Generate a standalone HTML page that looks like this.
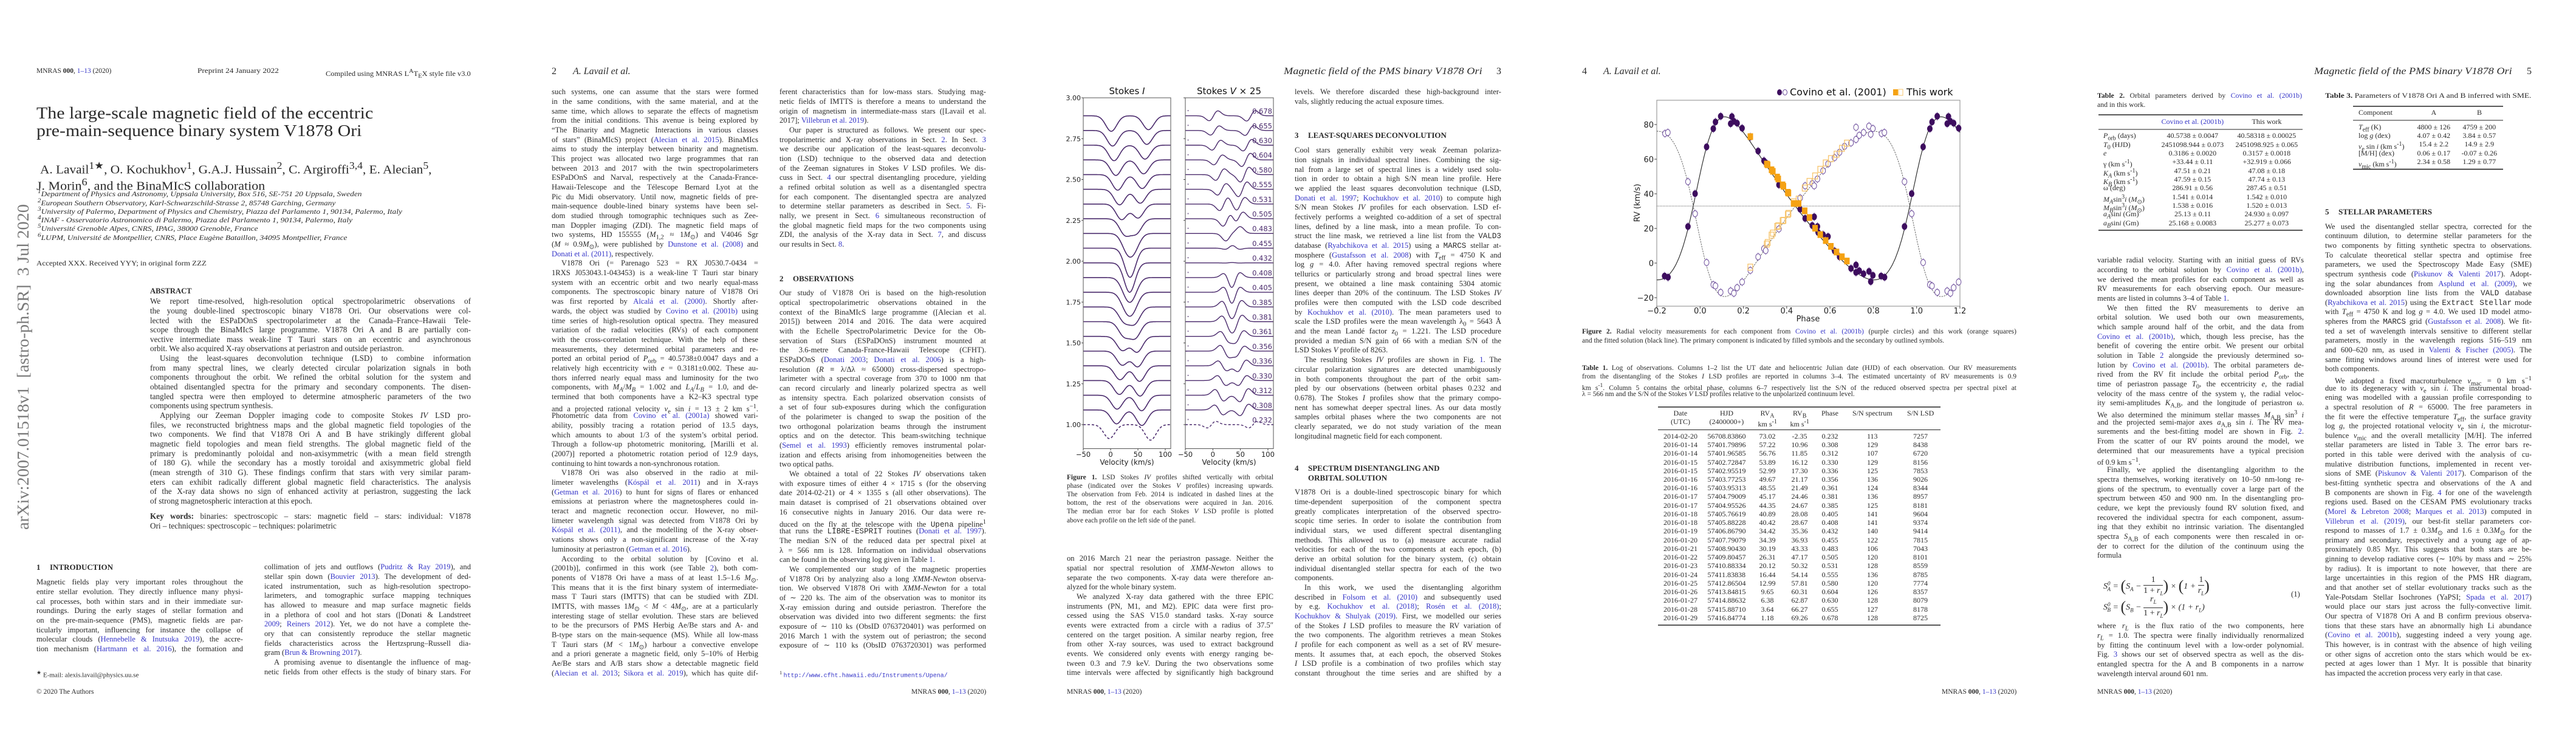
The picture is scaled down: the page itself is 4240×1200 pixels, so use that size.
<!DOCTYPE html>
<html><head><meta charset="utf-8">
<style>
body{margin:0;width:4240px;height:1200px;position:relative;background:#fff;overflow:hidden;font-family:"Liberation Serif",serif;color:#2a2a2a}
.ln{position:absolute;white-space:nowrap}
.l{color:#3535c8}
.tt{font-family:"Liberation Mono",monospace}
svg text{font-family:"DejaVu Sans","Liberation Sans",sans-serif}
</style></head>
<body>
<svg id="figs" width="4240" height="1200" style="position:absolute;left:0;top:0"></svg>
<script>
// ===== Figure 1 data (Stokes I/V profiles), index 0 = bottom profile =====
const fig1Phase = [0.232,0.308,0.312,0.330,0.336,0.356,0.361,0.381,0.385,0.405,0.408,0.432,0.455,0.483,0.505,0.531,0.555,0.580,0.604,0.630,0.655,0.678];
const rvA = [73.02,57.22,56.76,53.89,52.99,49.67,48.55,45.17,44.35,40.89,40.42,34.42,34.39,30.19,26.31,20.12,16.44,12.99,9.65,6.38,3.64,1.18];
const rvB = [-2.35,10.96,11.85,16.12,17.30,21.17,21.49,24.46,24.67,28.08,28.67,35.36,36.93,43.33,47.17,50.32,54.14,57.81,60.31,62.87,66.27,69.26];
const lineDepth = [0.095,0.085];
const vAmpA = [0.02,0.035,0.04,0.03,0.035,0.03,0.035,0.04,0.04,0.035,0.035,0.01,0.03,0.04,0.045,0.04,0.035,0.035,0.03,0.03,0.028,0.03];
const vAmpB = [0.02,-0.03,-0.035,-0.03,-0.03,-0.035,-0.03,-0.035,-0.035,-0.035,-0.03,-0.01,-0.03,0.035,0.04,0.04,0.045,0.045,0.04,0.035,0.03,0.032];
const fig1YTicks = ['1.00','1.25','1.50','1.75','2.00','2.25','2.50','2.75','3.00'];
const fig1XTicks = [-50,0,50,100];
// ===== Figure 2 data (RV curve) =====
const covPhaseA = [0.030,0.061,0.071,0.095,0.141,0.147,0.156,0.171,0.194,0.232,0.268,0.295,0.303,0.364,0.462,0.485,0.518,0.527,0.542,0.545,0.568,0.591,0.621,0.644,0.697,0.720,0.720,0.735,0.755,0.780,0.788,0.798,0.836,0.852,0.944,0.977];
const covRvA = [67.1,77.6,81.5,84.8,80.5,84.6,81.9,80.8,77.9,72.8,64.7,59.1,58.0,45.2,31.1,25.8,21.7,26.7,21.1,17.7,16.4,15.3,7.0,3.6,-3.1,-1.1,-5.4,-4.4,-6.2,-4.8,-10.7,-7.1,-7.5,-8.2,21.1,40.1];
const covPhaseB = [0.030,0.061,0.071,0.095,0.141,0.156,0.171,0.194,0.232,0.268,0.295,0.303,0.364,0.462,0.485,0.518,0.527,0.542,0.568,0.591,0.621,0.644,0.667,0.697,0.720,0.720,0.735,0.755,0.780,0.788,0.798,0.838,0.851,0.944,0.977];
const covRvB = [0.3,-12.5,-13.2,-16.9,-16.1,-17.4,-14.2,-10.9,-4.2,3.6,8.3,7.2,19.7,37.6,44.6,45.9,44.6,48.6,53.3,57.3,60.9,64.0,67.4,69.4,78.4,71.4,73.8,75.4,79.1,74.4,77.7,74.8,75.4,47.0,28.5];
const orbitGamma = [32.919];
const orbitK = [47.08,47.74];
const orbitEcc = [0.3157];
const orbitOmega = [287.45];
const fig2XTicks = [-0.2,0.0,0.2,0.4,0.6,0.8,1.0,1.2];
const fig2YTicks = [-20,0,20,40,60,80];
// ===== Table data =====
const table1Rows = [
['2014-02-20','56708.83860','73.02','-2.35','0.232','113','7257'],
['2016-01-14','57401.79896','57.22','10.96','0.308','129','8438'],
['2016-01-14','57401.96585','56.76','11.85','0.312','107','6720'],
['2016-01-15','57402.72847','53.89','16.12','0.330','129','8156'],
['2016-01-15','57402.95519','52.99','17.30','0.336','125','7853'],
['2016-01-16','57403.77253','49.67','21.17','0.356','136','9026'],
['2016-01-16','57403.95313','48.55','21.49','0.361','124','8344'],
['2016-01-17','57404.79009','45.17','24.46','0.381','136','8957'],
['2016-01-17','57404.95526','44.35','24.67','0.385','125','8181'],
['2016-01-18','57405.76619','40.89','28.08','0.405','141','9604'],
['2016-01-18','57405.88228','40.42','28.67','0.408','141','9374'],
['2016-01-19','57406.86790','34.42','35.36','0.432','140','9414'],
['2016-01-20','57407.79079','34.39','36.93','0.455','122','7815'],
['2016-01-21','57408.90430','30.19','43.33','0.483','106','7043'],
['2016-01-22','57409.80457','26.31','47.17','0.505','120','8101'],
['2016-01-23','57410.88334','20.12','50.32','0.531','128','8559'],
['2016-01-24','57411.83838','16.44','54.14','0.555','136','8785'],
['2016-01-25','57412.86504','12.99','57.81','0.580','120','7774'],
['2016-01-26','57413.84815','9.65','60.31','0.604','126','8357'],
['2016-01-27','57414.88632','6.38','62.87','0.630','128','8079'],
['2016-01-28','57415.88710','3.64','66.27','0.655','127','8178'],
['2016-01-29','57416.84774','1.18','69.26','0.678','128','8725']];
const table2Rows = [
['<i>P</i><sub>orb</sub> (days)','40.5738 ± 0.0047','40.58318 ± 0.00025'],
['<i>T</i><sub>0</sub> (HJD)','2451098.944 ± 0.073','2451098.925 ± 0.065'],
['<i>e</i>','0.3186 ± 0.0020','0.3157 ± 0.0018'],
['γ (km s<sup>-1</sup>)','+33.44 ± 0.11','+32.919 ± 0.066'],
['<i>K<sub>A</sub></i> (km s<sup>-1</sup>)','47.51 ± 0.21','47.08 ± 0.18'],
['<i>K<sub>B</sub></i> (km s<sup>-1</sup>)','47.59 ± 0.15','47.74 ± 0.13'],
['ω (deg)','286.91 ± 0.56','287.45 ± 0.51'],
['<i>M<sub>A</sub></i>sin<sup>3</sup><i>i</i> (<i>M</i><sub>⊙</sub>)','1.541 ± 0.014','1.542 ± 0.010'],
['<i>M<sub>B</sub></i>sin<sup>3</sup><i>i</i> (<i>M</i><sub>⊙</sub>)','1.538 ± 0.016','1.520 ± 0.013'],
['<i>a<sub>A</sub></i>sin<i>i</i> (Gm)','25.13 ± 0.11','24.930 ± 0.097'],
['<i>a<sub>B</sub></i>sin<i>i</i> (Gm)','25.168 ± 0.0083','25.277 ± 0.073']];
const table3Rows = [
['<i>T</i><sub>eff</sub> (K)','4800 ± 126','4759 ± 200'],
['log <i>g</i> (dex)','4.07 ± 0.42','3.84 ± 0.57'],
['<i>v</i><sub>e</sub> sin <i>i</i> (km s<sup>-1</sup>)','15.4 ± 2.2','14.9 ± 2.9'],
['&#91;M/H&#93; (dex)','0.06 ± 0.17','-0.07 ± 0.26'],
['<i>v</i><sub>mic</sub> (km s<sup>-1</sup>)','2.34 ± 0.58','1.29 ± 0.77']];

function fmt(s){return s.replace(/\[([^\]]+)\]/g,'<span class="l">$1</span>');}
function place(x,y,w,html,o){
  o=o||{};
  const el=document.createElement('div');
  el.className='ln';
  
  
  const size=o.size||12.6, lh=o.lh||15.6;
  el.style.fontSize=size+'px'; el.style.lineHeight=lh+'px';
  if(o.weight) el.style.fontWeight=o.weight;
  if(o.italic) el.style.fontStyle='italic';
  if(o.color) el.style.color=o.color;
  if(o.family) el.style.fontFamily=o.family;
  if(o.indent) el.style.textIndent=o.indent+'px';
  el.innerHTML=fmt(html);
  el.style.top=(y-lh/2)+'px'; el.style.left=x+'px';
  document.body.appendChild(el);
  const nw=el.offsetWidth;
  if(o.align==='right') el.style.left=(x-nw)+'px';
  else if(o.align==='center') el.style.left=(x-nw/2)+'px';
  if(w){
    if(nw>w){el.style.transformOrigin='0 50%';el.style.transform='scaleX('+(w/nw)+')';}
    else if(o.justify){el.style.whiteSpace='normal';el.style.width=w+'px';el.style.textAlign='justify';el.style.textAlignLast='justify';}
    else if(o.fit){el.style.transformOrigin='0 50%';el.style.transform='scaleX('+(w/nw)+')';}
  }
  return el;
}
function col(x,y0,w,sp,lines,o){
  o=o||{};
  lines.forEach((s,i)=>{
    let ind=0,just=true;
    if(s.startsWith('^')){ind=16;s=s.slice(1);}
    if(s.endsWith('$')){just=false;s=s.slice(0,-1);}
    place(x,y0+i*sp,w,s,Object.assign({},o,{indent:ind,justify:just,name:o.name||'body-text-line'}));
  });
}
function heading(x,y,num,txt){
  place(x,y,0,num,{size:13,weight:'bold',name:'section-number'});
  place(x+22,y,0,txt,{size:13,weight:'bold',name:'section-heading'});
}
const SP=15.68;

// ---------------- PAGE 1 ----------------
place(60,118,0,'MNRAS <b>000</b>, [1–13] (2020)',{size:11.5,name:'running-header'});
place(325,118,134,'Preprint 24 January 2022',{size:11.5,fit:true,name:'preprint-date'});
place(536,118,239,'Compiled using MNRAS L<sup>A</sup>T<sub>E</sub>X style file v3.0',{size:11.5,fit:true,name:'style-note'});
place(60,187,554,'The large-scale magnetic field of the eccentric',{size:27,fit:true,name:'paper-title'});
place(60,216,535,'pre-main-sequence binary system V1878 Ori',{size:27,fit:true,name:'paper-title'});
place(66,273,645,'A. Lavail<sup>1★</sup>, O. Kochukhov<sup>1</sup>, G.A.J. Hussain<sup>2</sup>, C. Argiroffi<sup>3,4</sup>, E. Alecian<sup>5</sup>,',{size:20,fit:true,name:'author-list'});
place(60,300,376,'J. Morin<sup>6</sup>, and the BinaMIcS collaboration',{size:20,fit:true,name:'author-list'});
const affs=[['<sup>1</sup>Department of Physics and Astronomy, Uppsala University, Box 516, SE-751 20 Uppsala, Sweden',533],
['<sup>2</sup>European Southern Observatory, Karl-Schwarzschild-Strasse 2, 85748 Garching, Germany',490],
['<sup>3</sup>University of Palermo, Department of Physics and Chemistry, Piazza del Parlamento 1, 90134, Palermo, Italy',600],
['<sup>4</sup>INAF - Osservatorio Astronomico di Palermo, Piazza del Parlamento 1, 90134, Palermo, Italy',518],
['<sup>5</sup>Université Grenoble Alpes, CNRS, IPAG, 38000 Grenoble, France',362],
['<sup>6</sup>LUPM, Université de Montpellier, CNRS, Place Eugène Bataillon, 34095 Montpellier, France',510]];
affs.forEach((a,i)=>place(62,316+i*14.3,a[1],a[0],{size:11.5,italic:true,fit:true,name:'affiliation'}));
place(60,435,280,'Accepted XXX. Received YYY; in original form ZZZ',{size:11.5,fit:true,name:'received-dates'});
place(247,480,0,'ABSTRACT',{size:12.6,weight:'bold',name:'abstract-heading'});
col(247,496,528,15.65,[
'We report time-resolved, high-resolution optical spectropolarimetric observations of',
'the young double-lined spectroscopic binary V1878 Ori. Our observations were col-',
'lected with the ESPaDOnS spectropolarimeter at the Canada–France–Hawaii Tele-',
'scope through the BinaMIcS large programme. V1878 Ori A and B are partially con-',
'vective intermediate mass weak-line T Tauri stars on an eccentric and asynchronous',
'orbit. We also acquired X-ray observations at periastron and outside periastron.$',
'^Using the least-squares deconvolution technique (LSD) to combine information',
'from many spectral lines, we clearly detected circular polarization signals in both',
'components throughout the orbit. We refined the orbital solution for the system and',
'obtained disentangled spectra for the primary and secondary components. The disen-',
'tangled spectra were then employed to determine atmospheric parameters of the two',
'components using spectrum synthesis.$',
'^Applying our Zeeman Doppler imaging code to composite Stokes <i>IV</i> LSD pro-',
'files, we reconstructed brightness maps and the global magnetic field topologies of the',
'two components. We find that V1878 Ori A and B have strikingly different global',
'magnetic field topologies and mean field strengths. The global magnetic field of the',
'primary is predominantly poloidal and non-axisymmetric (with a mean field strength',
'of 180 G). while the secondary has a mostly toroidal and axisymmetric global field',
'(mean strength of 310 G). These findings confirm that stars with very similar param-',
'eters can exhibit radically different global magnetic field characteristics. The analysis',
'of the X-ray data shows no sign of enhanced activity at periastron, suggesting the lack',
'of strong magnetospheric interaction at this epoch.$'],{size:13.2,name:'abstract-line'});
col(247,850,528,15.65,['<b>Key words:</b> binaries: spectroscopic – stars: magnetic field – stars: individual: V1878','Ori – techniques: spectroscopic – techniques: polarimetric$'],{size:13.2,name:'keywords-line'});
heading(60,934,'1','INTRODUCTION');
col(60,959,340,SP,[
'Magnetic fields play very important roles throughout the',
'entire stellar evolution. They directly influence many physi-',
'cal processes, both within stars and in their immediate sur-',
'roundings. During the early stages of stellar formation and',
'on the pre-main-sequence (PMS), magnetic fields are par-',
'ticularly important, influencing for instance the collapse of',
'molecular clouds ([Hennebelle &amp; Inutsuka 2019]), the accre-',
'tion mechanism ([Hartmann et al. 2016]), the formation and']);
place(60,1108,0,'<sup>★</sup> E-mail: alexis.lavail@physics.uu.se',{size:11,name:'footnote-email'});
col(435,934,340,SP,[
'collimation of jets and outflows ([Pudritz &amp; Ray 2019]), and',
'stellar spin down ([Bouvier 2013]). The development of ded-',
'icated instrumentation, such as high-resolution spectropo-',
'larimeters, and tomographic surface mapping techniques',
'has allowed to measure and map surface magnetic fields',
'in a plethora of cool and hot stars ([Donati &amp; Landstreet',
'[2009]; [Reiners 2012]). Yet, we do not have a complete the-',
'ory that can consistently reproduce the stellar magnetic',
'fields characteristics across the Hertzsprung–Russell dia-',
'gram ([Brun &amp; Browning 2017]).$',
'^A promising avenue to disentangle the influence of mag-',
'netic fields from other effects is the study of binary stars. For']);
place(60,1140,0,'© 2020 The Authors',{size:11.5,name:'copyright-footer'});
(function(){
  const el=place(0,0,0,'arXiv:2007.01518v1&nbsp;&nbsp;&#91;astro-ph.SR&#93;&nbsp;&nbsp;3 Jul 2020',{size:27,lh:30,color:'#7a7a7a',name:'arxiv-stamp'});
  const nw=el.offsetWidth;
  el.style.left=(38-nw/2)+'px'; el.style.top=(604-15)+'px';
  el.style.transformOrigin='50% 50%';
  el.style.transform='rotate(-90deg) scaleX('+(536/nw)+')';
})();

// ---------------- PAGE 2 ----------------
place(908,118,0,'2',{size:16,name:'page-number'});
place(943,118,0,'A. Lavail et al.',{size:16,italic:true,name:'running-header'});
col(908,152,340,SP,[
'such systems, one can assume that the stars were formed',
'in the same conditions, with the same material, and at the',
'same time, which allows to separate the effects of magnetism',
'from the initial conditions. This avenue is being explored by',
'“The Binarity and Magnetic Interactions in various classes',
'of stars” (BinaMIcS) project ([Alecian et al. 2015]). BinaMIcs',
'aims to study the interplay between binarity and magnetism.',
'This project was allocated two large programmes that ran',
'between 2013 and 2017 with the twin spectropolarimeters',
'ESPaDOnS and Narval, respectively at the Canada-France-',
'Hawaii-Telescope and the Télescope Bernard Lyot at the',
'Pic du Midi observatory. Until now, magnetic fields of pre-',
'main-sequence double-lined binary systems have been sel-',
'dom studied through tomographic techniques such as Zee-',
'man Doppler imaging (ZDI). The magnetic field maps of',
'two systems, HD 155555 (<i>M</i><sub>1,2</sub> ≈ 1<i>M</i><sub>⊙</sub>) and V4046 Sgr',
'(<i>M</i> ≈ 0.9<i>M</i><sub>⊙</sub>), were published by [Dunstone et al. (2008)] and',
'[Donati et al. (2011)], respectively.$',
'^V1878 Ori (= Parenago 523 = RX J0530.7-0434 =',
'1RXS J053043.1-043453) is a weak-line T Tauri star binary',
'system with an eccentric orbit and two nearly equal-mass',
'components. The spectroscopic binary nature of V1878 Ori',
'was first reported by [Alcalá et al. (2000)]. Shortly after-',
'wards, the object was studied by [Covino et al. (2001b)] using',
'time series of high-resolution optical spectra. They measured',
'variation of the radial velocities (RVs) of each component',
'with the cross-correlation technique. With the help of these',
'measurements, they determined orbital parameters and re-',
'ported an orbital period of <i>P</i><sub>orb</sub> = 40.5738±0.0047 days and a',
'relatively high eccentricity with <i>e</i> = 0.3181±0.002. These au-',
'thors inferred nearly equal mass and luminosity for the two',
'components, with <i>M<sub>A</sub></i>/<i>M<sub>B</sub></i> = 1.002 and <i>L<sub>A</sub></i>/<i>L<sub>B</sub></i> = 1.0, and de-',
'termined that both components have a K2–K3 spectral type',
'and a projected rational velocity <i>v</i><sub>e</sub> sin <i>i</i> = 13 ± 2 km s<sup>−1</sup>.',
'Photometric data from [Covino et al. (2001a)] showed vari-',
'ability, possibly tracing a rotation period of 13.5 days,',
'which amounts to about 1/3 of the system’s orbital period.',
'Through a follow-up photometric monitoring, [Marilli et al.',
'(2007)] reported a photometric rotation period of 12.9 days,',
'continuing to hint towards a non-synchronous rotation.$',
'^V1878 Ori was also observed in the radio at mil-',
'limeter wavelengths ([Kóspál et al. 2011]) and in X-rays',
'([Getman et al. 2016]) to hunt for signs of flares or enhanced',
'emissions at periastron where the magnetospheres could in-',
'teract and magnetic reconection occur. However, no mil-',
'limeter wavelength signal was detected from V1878 Ori by',
'[Kóspál et al. (2011)], and the modelling of the X-ray obser-',
'vations shows only a non-significant increase of the X-ray',
'luminosity at periastron ([Getman et al. 2016]).$',
'^According to the orbital solution by [Covino et al.',
'(2001b)], confirmed in this work (see Table [2]), both com-',
'ponents of V1878 Ori have a mass of at least 1.5–1.6 <i>M</i><sub>⊙</sub>.',
'This means that it is the first binary system of intermediate-',
'mass T Tauri stars (IMTTS) that can be studied with ZDI.',
'IMTTS, with masses 1<i>M</i><sub>⊙</sub> &lt; <i>M</i> &lt; 4<i>M</i><sub>⊙</sub>, are at a particularly',
'interesting stage of stellar evolution. These stars are believed',
'to be the precursors of PMS Herbig Ae/Be stars and A- and',
'B-type stars on the main-sequence (MS). While all low-mass',
'T Tauri stars (<i>M</i> &lt; 1<i>M</i><sub>⊙</sub>) harbour a convective envelope',
'and a priori generate a magnetic field, only 5–10% of Herbig',
'Ae/Be stars and A/B stars show a detectable magnetic field',
'([Alecian et al. 2013]; [Sikora et al. 2019]), which has quite dif-']);
col(1283,152,340,SP,[
'ferent characteristics than for low-mass stars. Studying mag-',
'netic fields of IMTTS is therefore a means to understand the',
'origin of magnetism in intermediate-mass stars ([Lavail et al.',
'2017]; [Villebrun et al. 2019]).$',
'^Our paper is structured as follows. We present our spec-',
'tropolarimetric and X-ray observations in Sect. [2]. In Sect. [3]',
'we describe our application of the least-squares deconvolu-',
'tion (LSD) technique to the observed data and detection',
'of the Zeeman signatures in Stokes <i>V</i> LSD profiles. We dis-',
'cuss in Sect. [4] our spectral disentangling procedure, yielding',
'a refined orbital solution as well as a disentangled spectra',
'for each component. The disentangled spectra are analyzed',
'to determine stellar parameters as described in Sect. [5]. Fi-',
'nally, we present in Sect. [6] simultaneous reconstruction of',
'the global magnetic field maps for the two components using',
'ZDI, the analysis of the X-ray data in Sect. [7], and discuss',
'our results in Sect. [8].$']);
heading(1283,458.5,'2','OBSERVATIONS');
col(1283,483,340,SP,[
'Our study of V1878 Ori is based on the high-resolution',
'optical spectropolarimetric observations obtained in the',
'context of the BinaMIcS large programme ([Alecian et al.',
'2015]) between 2014 and 2016. The data were acquired',
'with the Echelle SpectroPolarimetric Device for the Ob-',
'servation of Stars (ESPaDOnS) instrument mounted at',
'the 3.6-metre Canada-France-Hawaii Telescope (CFHT).',
'ESPaDOnS ([Donati 2003]; [Donati et al. 2006]) is a high-',
'resolution (<i>R</i> ≡ λ/Δλ ≈ 65000) cross-dispersed spectropo-',
'larimeter with a spectral coverage from 370 to 1000 nm that',
'can record circularly and linearly polarized spectra as well',
'as intensity spectra. Each polarized observation consists of',
'a set of four sub-exposures during which the configuration',
'of the polarimeter is changed to swap the position of the',
'two orthogonal polarization beams through the instrument',
'optics and on the detector. This beam-switching technique',
'([Semel et al. 1993]) efficiently removes instrumental polar-',
'ization and effects arising from inhomogeneities between the',
'two optical paths.$',
'^We obtained a total of 22 Stokes <i>IV</i> observations taken',
'with exposure times of either 4 × 1715 s (for the observing',
'date 2014-02-21) or 4 × 1355 s (all other observations). The',
'main dataset is comprised of 21 observations obtained over',
'16 consecutive nights in January 2016. Our data were re-',
'duced on the fly at the telescope with the <span class="tt">Upena</span> pipeline<sup>1</sup>',
'that runs the <span class="tt">LIBRE-ESPRIT</span> routines ([Donati et al. 1997]).',
'The median S/N of the reduced data per spectral pixel at',
'λ = 566 nm is 128. Information on individual observations',
'can be found in the observing log given in Table [1].$',
'^We complemented our study of the magnetic properties',
'of V1878 Ori by analyzing also a long <i>XMM-Newton</i> observa-',
'tion. We observed V1878 Ori with <i>XMM-Newton</i> for a total',
'of ∼ 220 ks. The aim of the observation was to monitor its',
'X-ray emission during and outside periastron. Therefore the',
'observation was divided into two different segments: the first',
'exposure of ∼ 110 ks (ObsID 0763720401) was performed on',
'2016 March 1 with the system out of periastron; the second',
'exposure of ∼ 110 ks (ObsID 0763720301) was performed']);
place(1283,1108,0,'<sup>1</sup> <span class="l tt">http://www.cfht.hawaii.edu/Instruments/Upena/</span>',{size:10,name:'footnote-url'});
place(1623,1140,0,'MNRAS <b>000</b>, [1–13] (2020)',{size:11.5,align:'right',name:'running-footer'});

// ---------------- PAGE 3 ----------------
place(2471,118,0,'3',{size:16,align:'right',name:'page-number'});
place(2113,118,327,'Magnetic field of the PMS binary V1878 Ori',{size:16,italic:true,fit:true,name:'running-header'});
col(1756,786,340,14.1,[
'<b>Figure 1.</b> LSD Stokes <i>IV</i> profiles shifted vertically with orbital',
'phase (indicated over the Stokes <i>V</i> profiles) increasing upwards.',
'The observation from Feb. 2014 is indicated in dashed lines at the',
'bottom, the rest of the observations were acquired in Jan. 2016.',
'The median error bar for each Stokes <i>V</i> LSD profile is plotted',
'above each profile on the left side of the panel.$'],{size:11.3,lh:14,name:'figure1-caption-line'});
col(1756,920,340,SP,[
'on 2016 March 21 near the periastron passage. Neither the',
'spatial nor spectral resolution of <i>XMM-Newton</i> allows to',
'separate the two components. X-ray data were therefore an-',
'alyzed for the whole binary system.$',
'^We analyzed X-ray data gathered with the three EPIC',
'instruments (PN, M1, and M2). EPIC data were first pro-',
'cessed using the SAS V15.0 standard tasks. X-ray source',
'events were extracted from a circle with a radius of 37.5″',
'centered on the target position. A similar nearby region, free',
'from other X-ray sources, was used to extract background',
'events. We considered only events with energy ranging be-',
'tween 0.3 and 7.9 keV. During the two observations some',
'time intervals were affected by significantly high background']);
col(2131,152,340,SP,[
'levels. We therefore discarded these high-background inter-',
'vals, slightly reducing the actual exposure times.$']);
heading(2131,223,'3','LEAST-SQUARES DECONVOLUTION');
col(2131,248,340,SP,[
'Cool stars generally exhibit very weak Zeeman polariza-',
'tion signals in individual spectral lines. Combining the sig-',
'nal from a large set of spectral lines is a widely used solu-',
'tion in order to obtain a high S/N mean line profile. Here',
'we applied the least squares deconvolution technique (LSD,',
'[Donati et al. 1997]; [Kochukhov et al. 2010]) to compute high',
'S/N mean Stokes <i>IV</i> profiles for each observation. LSD ef-',
'fectively performs a weighted co-addition of a set of spectral',
'lines, defined by a line mask, into a mean profile. To con-',
'struct the line mask, we retrieved a line list from the <span class="tt">VALD3</span>',
'database ([Ryabchikova et al. 2015]) using a <span class="tt">MARCS</span> stellar at-',
'mosphere ([Gustafsson et al. 2008]) with <i>T</i><sub>eff</sub> = 4750 K and',
'log <i>g</i> = 4.0. After having removed spectral regions where',
'tellurics or particularly strong and broad spectral lines were',
'present, we obtained a line mask containing 5304 atomic',
'lines deeper than 20% of the continuum. The LSD Stokes <i>IV</i>',
'profiles were then computed with the LSD code described',
'by [Kochukhov et al. (2010)]. The mean parameters used to',
'scale the LSD profiles were the mean wavelength λ<sub>0</sub> = 5643 Å',
'and the mean Landé factor <i>z</i><sub>0</sub> = 1.221. The LSD procedure',
'provided a median S/N gain of 66 with a median S/N of the',
'LSD Stokes <i>V</i> profile of 8263.$',
'^The resulting Stokes <i>IV</i> profiles are shown in Fig. [1]. The',
'circular polarization signatures are detected unambiguously',
'in both components throughout the part of the orbit sam-',
'pled by our observations (between orbital phases 0.232 and',
'0.678). The Stokes <i>I</i> profiles show that the primary compo-',
'nent has somewhat deeper spectral lines. As our data mostly',
'samples orbital phases where the two components are not',
'clearly separated, we do not study variation of the mean',
'longitudinal magnetic field for each component.$']);
heading(2131,771,'4','SPECTRUM DISENTANGLING AND');
place(2153,787,0,'ORBITAL SOLUTION',{size:13,weight:'bold',name:'section-heading'});
col(2131,811,340,SP,[
'V1878 Ori is a double-lined spectroscopic binary for which',
'time-dependent superposition of the component spectra',
'greatly complicates interpretation of the observed spectro-',
'scopic time series. In order to isolate the contribution from',
'individual stars, we used different spectral disentangling',
'methods. This allowed us to (a) measure accurate radial',
'velocities for each of the two components at each epoch, (b)',
'derive an orbital solution for the binary system, (c) obtain',
'individual disentangled stellar spectra for each of the two',
'components.$',
'^In this work, we used the disentangling algorithm',
'described in [Folsom et al. (2010)] and subsequently used',
'by e.g. [Kochukhov et al. (2018)]; [Rosén et al. (2018)];',
'[Kochukhov &amp; Shulyak (2019)]. First, we modelled our series',
'of the Stokes <i>I</i> LSD profiles to measure the RV variation of',
'the two components. The algorithm retrieves a mean Stokes',
'<i>I</i> profile for each component as well as a set of RV mesure-',
'ments. It assumes that, at each epoch, the observed Stokes',
'<i>I</i> LSD profile is a combination of two profiles which stay',
'constant throughout the time series and are shifted by a']);
place(1756,1140,0,'MNRAS <b>000</b>, [1–13] (2020)',{size:11.5,name:'running-footer'});

// ---------------- PAGE 4 ----------------
place(2604,118,0,'4',{size:16,name:'page-number'});
place(2639,118,0,'A. Lavail et al.',{size:16,italic:true,name:'running-header'});
col(2604,546,715,15,[
'<b>Figure 2.</b> Radial velocity measurements for each component from [Covino et al. (2001b)] (purple circles) and this work (orange squares)',
'and the fitted solution (black line). The primary component is indicated by filled symbols and the secondary by outlined symbols.$'],{size:11.5,lh:14,name:'figure2-caption-line'});
col(2604,606,715,14.3,[
'<b>Table 1.</b> Log of observations. Columns 1–2 list the UT date and heliocentric Julian date (HJD) of each observation. Our RV measurements',
'from the disentangling of the Stokes <i>I</i> LSD profiles are reported in columns 3–4. The estimated uncertainty of RV measurements is 0.9',
'km s<sup>-1</sup>. Column 5 contains the orbital phase, columns 6–7 respectively list the S/N of the reduced observed spectra per spectral pixel at',
'λ = 566 nm and the S/N of the Stokes <i>V</i> LSD profiles relative to the unpolarized continuum level.$'],{size:11.5,lh:14,name:'table1-caption-line'});
const t1x=[2766,2842,2909,2962,3012,3082,3161];
['Date','HJD','RV<sub>A</sub>','RV<sub>B</sub>','Phase','S/N spectrum','S/N LSD'].forEach((h,i)=>place(t1x[i],681,0,h,{size:12,align:'center',name:'table1-header'}));
['(UTC)','(2400000+)','km s<sup>-1</sup>','km s<sup>-1</sup>'].forEach((h,i)=>place(t1x[i],695,0,h,{size:12,align:'center',name:'table1-header-unit'}));
table1Rows.forEach((r,j)=>r.forEach((c,i)=>place(t1x[i],718.6+j*14.24,0,c,{size:12,align:'center',name:'table1-cell'})));
place(3319,1140,0,'MNRAS <b>000</b>, [1–13] (2020)',{size:11.5,align:'right',name:'running-footer'});

// ---------------- PAGE 5 ----------------
place(4167,118,0,'5',{size:16,align:'right',name:'page-number'});
place(3809,118,326,'Magnetic field of the PMS binary V1878 Ori',{size:16,italic:true,fit:true,name:'running-header'});
col(3452,157,337,14.5,['<b>Table 2.</b> Orbital parameters derived by [Covino et al. (2001b)]','and in this work.$'],{size:11.8,lh:14,name:'table2-caption-line'});
place(3609,200.5,0,'[Covino et al. (2001b)]',{size:12,align:'center',name:'table2-header'});
place(3731,200.5,0,'This work',{size:12,align:'center',name:'table2-header'});
table2Rows.forEach((r,j)=>{
  place(3462,224+j*14.35,0,r[0],{size:12,name:'table2-label'});
  place(3609,224+j*14.35,0,r[1],{size:12,align:'center',name:'table2-cell'});
  place(3731,224+j*14.35,0,r[2],{size:12,align:'center',name:'table2-cell'});
});
place(3827,157,340,'<b>Table 3.</b> Parameters of V1878 Ori A and B inferred with SME.',{size:11.8,lh:14,fit:true,name:'table3-caption'});
place(3882,185.6,0,'Component',{size:12,name:'table3-header'});
place(4006,185.6,0,'A',{size:12,align:'center',name:'table3-header'});
place(4081,185.6,0,'B',{size:12,align:'center',name:'table3-header'});
table3Rows.forEach((r,j)=>{
  place(3882,209.3+j*14.35,0,r[0],{size:12,name:'table3-label'});
  place(4006,209.3+j*14.35,0,r[1],{size:12,align:'center',name:'table3-cell'});
  place(4081,209.3+j*14.35,0,r[2],{size:12,align:'center',name:'table3-cell'});
});
col(3452,429,340,SP,[
'variable radial velocity. Starting with an initial guess of RVs',
'according to the orbital solution by [Covino et al. (2001b)],',
'we derived the mean profiles for each component as well as',
'RV measurements for each observing epoch. Our measure-',
'ments are listed in columns 3–4 of Table [1].$',
'^We then fitted the RV measurements to derive an',
'orbital solution. We used both our own measurements,',
'which sample around half of the orbit, and the data from',
'[Covino et al. (2001b)], which, though less precise, has the',
'benefit of covering the entire orbit. We present our orbital',
'solution in Table [2] alongside the previously determined so-',
'lution by [Covino et al. (2001b)]. The orbital parameters de-',
'rived from the RV fit include the orbital period <i>P</i><sub>orb</sub>, the',
'time of periastron passage <i>T</i><sub>0</sub>, the eccentricity <i>e</i>, the radial',
'velocity of the mass centre of the system γ, the radial veloc-',
'ity semi-amplitudes <i>K</i><sub>A,B</sub>, and the longitude of periastron ω.',
'We also determined the minimum stellar masses <i>M</i><sub>A,B</sub> sin<sup>3</sup> <i>i</i>',
'and the projected semi-major axes <i>a</i><sub>A,B</sub> sin <i>i</i>. The RV mea-',
'surements and the best-fitting model are shown in Fig. [2].',
'From the scatter of our RV points around the model, we',
'determined that our measurements have a typical precision',
'of 0.9 km s<sup>−1</sup>.$',
'^Finally, we applied the disentangling algorithm to the',
'spectra themselves, working iteratively on 10–50 nm-long re-',
'gions of the spectrum, to eventually cover a large part of the',
'spectrum between 450 and 900 nm. In the disentangling pro-',
'cedure, we kept the previously found RV solution fixed, and',
'recovered the individual spectra for each component, assum-',
'ing that they exhibit no intrinsic variation. The disentangled',
'spectra <i>S</i><sub>A,B</sub> of each components were then rescaled in or-',
'der to correct for the dilution of the continuum using the',
'formula$']);
col(3452,1031,340,SP,[
'where <i>r<sub>L</sub></i> is the flux ratio of the two components, here',
'<i>r<sub>L</sub></i> = 1.0. The spectra were finally individually renormalized',
'by fitting the continuum level with a low-order polynomial.',
'Fig. [3] shows our set of observed spectra as well as the dis-',
'entangled spectra for the A and B components in a narrow',
'wavelength interval around 601 nm.$']);
heading(3827,348.6,'5','STELLAR PARAMETERS');
col(3827,373.5,340,15.64,[
'We used the disentangled stellar spectra, corrected for the',
'continuum dilution, to determine stellar parameters for the',
'two components by fitting synthetic spectra to observations.',
'To calculate theoretical stellar spectra and optimise free',
'parameters, we used the Spectroscopy Made Easy (SME)',
'spectrum synthesis code ([Piskunov &amp; Valenti 2017]). Adopt-',
'ing the solar abundances from [Asplund et al. (2009)], we',
'downloaded absorption line lists from the <span class="tt">VALD</span> database',
'([Ryabchikova et al. 2015]) using the <span class="tt">Extract Stellar</span> mode',
'with <i>T</i><sub>eff</sub> = 4750 K and log <i>g</i> = 4.0. We used 1D model atmo-',
'spheres from the <span class="tt">MARCS</span> grid ([Gustafsson et al. 2008]). We fit-',
'ted a set of wavelength intervals sensitive to different stellar',
'parameters, mostly in the wavelength regions 516–519 nm',
'and 600–620 nm, as used in [Valenti &amp; Fischer (2005)]. The',
'same fitting windows around lines of interest were used for',
'both components.$',
'^We adopted a fixed macroturbulence <i>v</i><sub>mac</sub> = 0 km s<sup>−1</sup>',
'due to its degeneracy with <i>v</i><sub>e</sub> sin <i>i</i>. The instrumental broad-',
'ening was modelled with a gaussian profile corresponding to',
'a spectral resolution of <i>R</i> = 65000. The free parameters in',
'the fit were the effective temperature <i>T</i><sub>eff</sub>, the surface gravity',
'log <i>g</i>, the projected rotational velocity <i>v</i><sub>e</sub> sin <i>i</i>, the microtur-',
'bulence <i>v</i><sub>mic</sub> and the overall metallicity &#91;M/H&#93;. The inferred',
'stellar parameters are listed in Table 3. The error bars re-',
'ported in this table were derived with the analysis of cu-',
'mulative distribution functions, implemented in recent ver-',
'sions of SME ([Piskunov &amp; Valenti 2017]). Comparison of the',
'best-fitting synthetic spectra and observations of the A and',
'B components are shown in Fig. [4] for one of the wavelength',
'regions used. Based on the CESAM PMS evolutionary tracks',
'([Morel &amp; Lebreton 2008]; [Marques et al. 2013]) computed in',
'[Villebrun et al. (2019)], our best-fit stellar parameters cor-',
'respond to masses of 1.7 ± 0.3<i>M</i><sub>⊙</sub> and 1.6 ± 0.3<i>M</i><sub>⊙</sub> for the',
'primary and secondary, respectively and a young age of ap-',
'proximately 0.85 Myr. This suggests that both stars are be-',
'ginning to develop radiative cores (∼ 10% by mass and ∼ 25%',
'by radius). It is important to note however, that there are',
'large uncertainties in this region of the PMS HR diagram,',
'and that another set of stellar evolutionary tracks such as the',
'Yale-Potsdam Stellar Isochrones (YaPSI; [Spada et al. 2017])',
'would place our stars just across the fully-convective limit.',
'Our spectra of V1878 Ori A and B confirm previous observa-',
'tions that these stars have an abnormally high Li abundance',
'([Covino et al. 2001b]), suggesting indeed a very young age.',
'This however, is in contrast with the absence of high veiling',
'or other signs of accretion onto the stars which would be ex-',
'pected at ages lower than 1 Myr. It is possible that binarity',
'has impacted the accretion process very early in that case.$']);
place(3452,1140,0,'MNRAS <b>000</b>, [1–13] (2020)',{size:11.5,name:'running-footer'});
</script>
<div style="position:absolute;left:3462px;top:946px;font-size:14px;font-style:italic;line-height:17px">
<div style="position:absolute;left:0;top:0;white-space:nowrap">S<sup style="font-size:9px">0</sup><sub style="font-size:9px;margin-left:-5px">A</sub> = <span style="font-size:26px;font-style:normal;vertical-align:-4px">(</span>S<sub style="font-size:9px">A</sub> − <span style="display:inline-block;vertical-align:middle;text-align:center;font-style:normal"><span style="display:block;border-bottom:1px solid #333;padding:0 2px">1</span><span style="display:block">1 + <i>r<sub style="font-size:9px">L</sub></i></span></span><span style="font-size:26px;font-style:normal;vertical-align:-4px">)</span> × <span style="font-size:26px;font-style:normal;vertical-align:-4px">(</span>1 + <span style="display:inline-block;vertical-align:middle;text-align:center"><span style="display:block;border-bottom:1px solid #333;font-style:normal">1</span><span style="display:block">r<sub style="font-size:9px">L</sub></span></span><span style="font-size:26px;font-style:normal;vertical-align:-4px">)</span></div>
<div style="position:absolute;left:0;top:32px;white-space:nowrap">S<sup style="font-size:9px">0</sup><sub style="font-size:9px;margin-left:-5px">B</sub> = <span style="font-size:26px;font-style:normal;vertical-align:-4px">(</span>S<sub style="font-size:9px">B</sub> − <span style="display:inline-block;vertical-align:middle;text-align:center"><span style="display:block;border-bottom:1px solid #333;padding:0 2px">r<sub style="font-size:9px">L</sub></span><span style="display:block;font-style:normal">1 + <i>r<sub style="font-size:9px">L</sub></i></span></span><span style="font-size:26px;font-style:normal;vertical-align:-4px">)</span> × (1 + r<sub style="font-size:9px">L</sub>)</div>
</div>
<div style="position:absolute;left:3771px;top:971px;font-size:12.6px">(1)</div>
<script>
const NS='http://www.w3.org/2000/svg';
const svg=document.getElementById('figs');
function mk(tag,attrs,parent){const e=document.createElementNS(NS,tag);for(const k in attrs)e.setAttribute(k,attrs[k]);(parent||svg).appendChild(e);return e;}
const INK='#4a2a6c';

// ======= Figure 1 =======
const f1={xI0:1783,xI1:1927,xV0:1951,xV1:2096,y0:161,y1:738.5,vmin:-50,vmax:110,top:3.0,ppu:269};
function f1y(val){return f1.y0+(f1.top-val)*f1.ppu;}
function f1xI(v){return f1.xI0+(v-f1.vmin)/(f1.vmax-f1.vmin)*(f1.xI1-f1.xI0);}
function f1xV(v){return f1.xV0+(v-f1.vmin)/(f1.vmax-f1.vmin)*(f1.xV1-f1.xV0);}
const sig=10, sigV=8;
fig1Phase.forEach((ph,i)=>{
  const off=1+0.09*i;
  let dI='',dV='';
  for(let v=f1.vmin;v<=f1.vmax;v+=1){
    const gI=lineDepth[0]*Math.exp(-Math.pow(v-rvA[i],2)/(2*sig*sig))+lineDepth[1]*Math.exp(-Math.pow(v-rvB[i],2)/(2*sig*sig));
    const yI=f1y(off-gI);
    dI+=(v===f1.vmin?'M':'L')+f1xI(v).toFixed(1)+','+yI.toFixed(1);
    const uA=(v-rvA[i])/sigV, uB=(v-rvB[i])/sigV;
    const gV=vAmpA[i]*uA*Math.exp(-uA*uA/2)*1.6487+vAmpB[i]*uB*Math.exp(-uB*uB/2)*1.6487;
    dV+=(v===f1.vmin?'M':'L')+f1xV(v).toFixed(1)+','+f1y(off+gV).toFixed(1);
  }
  const dash = i===0 ? '4,3' : 'none';
  const pI=mk('path',{d:dI,fill:'none',stroke:INK,'stroke-width':1.6,'stroke-dasharray':dash});
  
  
  const pV=mk('path',{d:dV,fill:'none',stroke:INK,'stroke-width':1.4,'stroke-dasharray':dash});
  
  
  const eb=mk('line',{x1:f1xV(-45),x2:f1xV(-45),y1:f1y(off+0.035),y2:f1y(off+0.028),stroke:INK,'stroke-width':1.2});
  
  
  const lb=mk('text',{x:f1.xV1-2,y:f1y(off+0.028)+4,'text-anchor':'end','font-size':11.5,fill:INK});
  lb.textContent=ph.toFixed(3);
  
  
});
[[f1.xI0,f1.xI1,'stokes-i-frame'],[f1.xV0,f1.xV1,'stokes-v-frame']].forEach(b=>{
  const r=mk('rect',{x:b[0],y:f1.y0,width:b[1]-b[0],height:f1.y1-f1.y0,fill:'none',stroke:'#555','stroke-width':1});
  
  
});
fig1YTicks.forEach(t=>{
  const y=f1y(parseFloat(t));
  mk('line',{x1:f1.xI0-3,x2:f1.xI0,y1:y,y2:y,stroke:'#444'});
  mk('line',{x1:f1.xV0-3,x2:f1.xV0,y1:y,y2:y,stroke:'#444'});
  const tx=mk('text',{x:f1.xI0-4,y:y+4,'text-anchor':'end','font-size':11,fill:'#222'});
  tx.textContent=t;
  
  
});
fig1XTicks.forEach(v=>{
  [f1xI,f1xV].forEach(fx=>{
    const x=fx(v);
    mk('line',{x1:x,x2:x,y1:f1.y1,y2:f1.y1+3,stroke:'#444'});
    const tx=mk('text',{x:x,y:752,'text-anchor':'middle','font-size':11.5,fill:'#222'});
    tx.textContent=v<0?'−'+(-v):String(v);
    
    
  });
});
[[1855,'stokes-i'],[2023,'stokes-v']].forEach(p=>{
  const t=mk('text',{x:p[0],y:765,'text-anchor':'middle','font-size':12,fill:'#222'});
  t.textContent='Velocity (km/s)';
  
  
});
(function(){
  const t1=mk('text',{x:1855,y:155,'text-anchor':'middle','font-size':15,fill:'#111'});
  t1.innerHTML='Stokes <tspan font-style="italic">I</tspan>';
  
  
  const t2=mk('text',{x:2023,y:155,'text-anchor':'middle','font-size':15,fill:'#111'});
  t2.innerHTML='Stokes <tspan font-style="italic">V</tspan> × 25';
  
  
})();

// ======= Figure 2 =======
const f2={x0:2727,x1:3226,y0:165,y1:504,pmin:-0.2,pmax:1.2,rtop:94.04,rbot:-24.9};
function xP(p){return f2.x0+(p-f2.pmin)/(f2.pmax-f2.pmin)*(f2.x1-f2.x0);}
function yR(r){return f2.y0+(f2.rtop-r)/(f2.rtop-f2.rbot)*(f2.y1-f2.y0);}
function orbitRV(p,comp){
  const M=2*Math.PI*(p-Math.floor(p)); const e=orbitEcc[0];
  let E=M; for(let k=0;k<30;k++){E=E-(E-e*Math.sin(E)-M)/(1-e*Math.cos(E));}
  const nu=2*Math.atan2(Math.sqrt(1+e)*Math.sin(E/2),Math.sqrt(1-e)*Math.cos(E/2));
  const w=orbitOmega[0]*Math.PI/180+(comp===1?Math.PI:0);
  return orbitGamma[0]+orbitK[comp]*(Math.cos(nu+w)+e*Math.cos(w));
}
(function(){
  const fr=mk('rect',{x:f2.x0,y:f2.y0,width:f2.x1-f2.x0,height:f2.y1-f2.y0,fill:'none',stroke:'#888','stroke-width':1});
  
  
  const gl=mk('line',{x1:f2.x0,x2:f2.x1,y1:yR(orbitGamma[0]),y2:yR(orbitGamma[0]),stroke:'#888','stroke-width':1.2,'stroke-dasharray':'1.5,1'});
  
  
  [0,1].forEach(c=>{
    let d='';
    for(let k=0;k<=700;k++){const p=f2.pmin+(f2.pmax-f2.pmin)*k/700;d+=(k?'L':'M')+xP(p).toFixed(1)+','+yR(orbitRV(p,c)).toFixed(1);}
    const pa=mk('path',{d:d,fill:'none',stroke:c?'#555':'#222','stroke-width':c?0.9:1.1,'stroke-dasharray':c?'2.5,1.5':'none'});
    
    
  });
  function reps(p){return [p-1,p,p+1].filter(q=>q>=f2.pmin-0.001&&q<=f2.pmax+0.001);}
  covPhaseB.forEach((p,i)=>reps(p).forEach(q=>{
    const x=xP(q),y=yR(covRvB[i]);
    mk('line',{x1:x,x2:x,y1:y-7,y2:y+7,stroke:'#8a6fb5','stroke-width':0.9});
    const c=mk('ellipse',{cx:x,cy:y,rx:4,ry:5,fill:'#fff',stroke:'#6a4a9a','stroke-width':1});
    
    
  }));
  covPhaseA.forEach((p,i)=>reps(p).forEach(q=>{
    const x=xP(q),y=yR(covRvA[i]);
    mk('line',{x1:x,x2:x,y1:y-7,y2:y+7,stroke:'#6a4a9a','stroke-width':0.9});
    const c=mk('ellipse',{cx:x,cy:y,rx:4.5,ry:5.5,fill:'#3d0d5e'});
    
    
  }));
  fig1Phase.forEach((p,i)=>{
    const s1=mk('rect',{x:xP(p)-4,y:yR(rvB[i])-5,width:8,height:10,fill:'none',stroke:'#f7c46c','stroke-width':1.3});
    
    
  });
  fig1Phase.forEach((p,i)=>{
    const s=mk('rect',{x:xP(p)-4.5,y:yR(rvA[i])-5.5,width:9,height:11,fill:'#f5a214'});
    
    
  });
  fig2XTicks.forEach(t=>{
    const x=xP(t);
    mk('line',{x1:x,x2:x,y1:f2.y1,y2:f2.y1+4,stroke:'#444'});
    const tx=mk('text',{x:x,y:516,'text-anchor':'middle','font-size':13,fill:'#222'});
    tx.textContent=(t<0?'−':'')+Math.abs(t).toFixed(1);
    
    
  });
  fig2YTicks.forEach(t=>{
    const y=yR(t);
    mk('line',{x1:f2.x0-4,x2:f2.x0,y1:y,y2:y,stroke:'#444'});
    const tx=mk('text',{x:f2.x0-5,y:y+5,'text-anchor':'end','font-size':13,fill:'#222'});
    tx.textContent=(t<0?'−':'')+Math.abs(t);
    
    
  });
  const xt=mk('text',{x:2976,y:529,'text-anchor':'middle','font-size':13,fill:'#222'});
  xt.textContent='Phase';
  
  
  const yt=mk('text',{x:2699,y:334,'text-anchor':'middle','font-size':13,fill:'#222',transform:'rotate(-90 2699 334)'});
  yt.textContent='RV (km/s)';
  
  
  const lg=mk('g',{});
  
  
  mk('ellipse',{cx:2929,cy:152,rx:4,ry:5,fill:'#3d0d5e'},lg);
  mk('ellipse',{cx:2938,cy:152,rx:3.5,ry:4.5,fill:'#fff',stroke:'#6a4a9a'},lg);
  const l1=mk('text',{x:2946,y:157,'font-size':16,fill:'#111'},lg);
  l1.textContent='Covino et al. (2001)';
  
  
  mk('rect',{x:3116,y:147,width:8,height:10,fill:'#f5a214'},lg);
  mk('rect',{x:3125,y:147,width:7,height:10,fill:'none',stroke:'#f7c46c'},lg);
  const l2=mk('text',{x:3138,y:157,'font-size':16,fill:'#111'},lg);
  l2.textContent='This work';
  
  
})();

// ======= Table rules =======
function rule(x1,x2,y,w,name){
  const l=mk('line',{x1:x1,x2:x2,y1:y,y2:y,stroke:'#222','stroke-width':w});
  
  
}
rule(2729,3194,670,1.6,'table1-top-rule');rule(2729,3194,707.5,1,'table1-mid-rule');rule(2729,3194,1029,1.6,'table1-bottom-rule');
rule(3454,3790,189,1.6,'table2-top-rule');rule(3454,3790,213,1,'table2-mid-rule');rule(3454,3790,379,1.6,'table2-bottom-rule');
rule(3873,4120,175,1.6,'table3-top-rule');rule(3873,4120,198,1,'table3-mid-rule');rule(3873,4120,278.6,1.6,'table3-bottom-rule');
</script>
</body></html>
